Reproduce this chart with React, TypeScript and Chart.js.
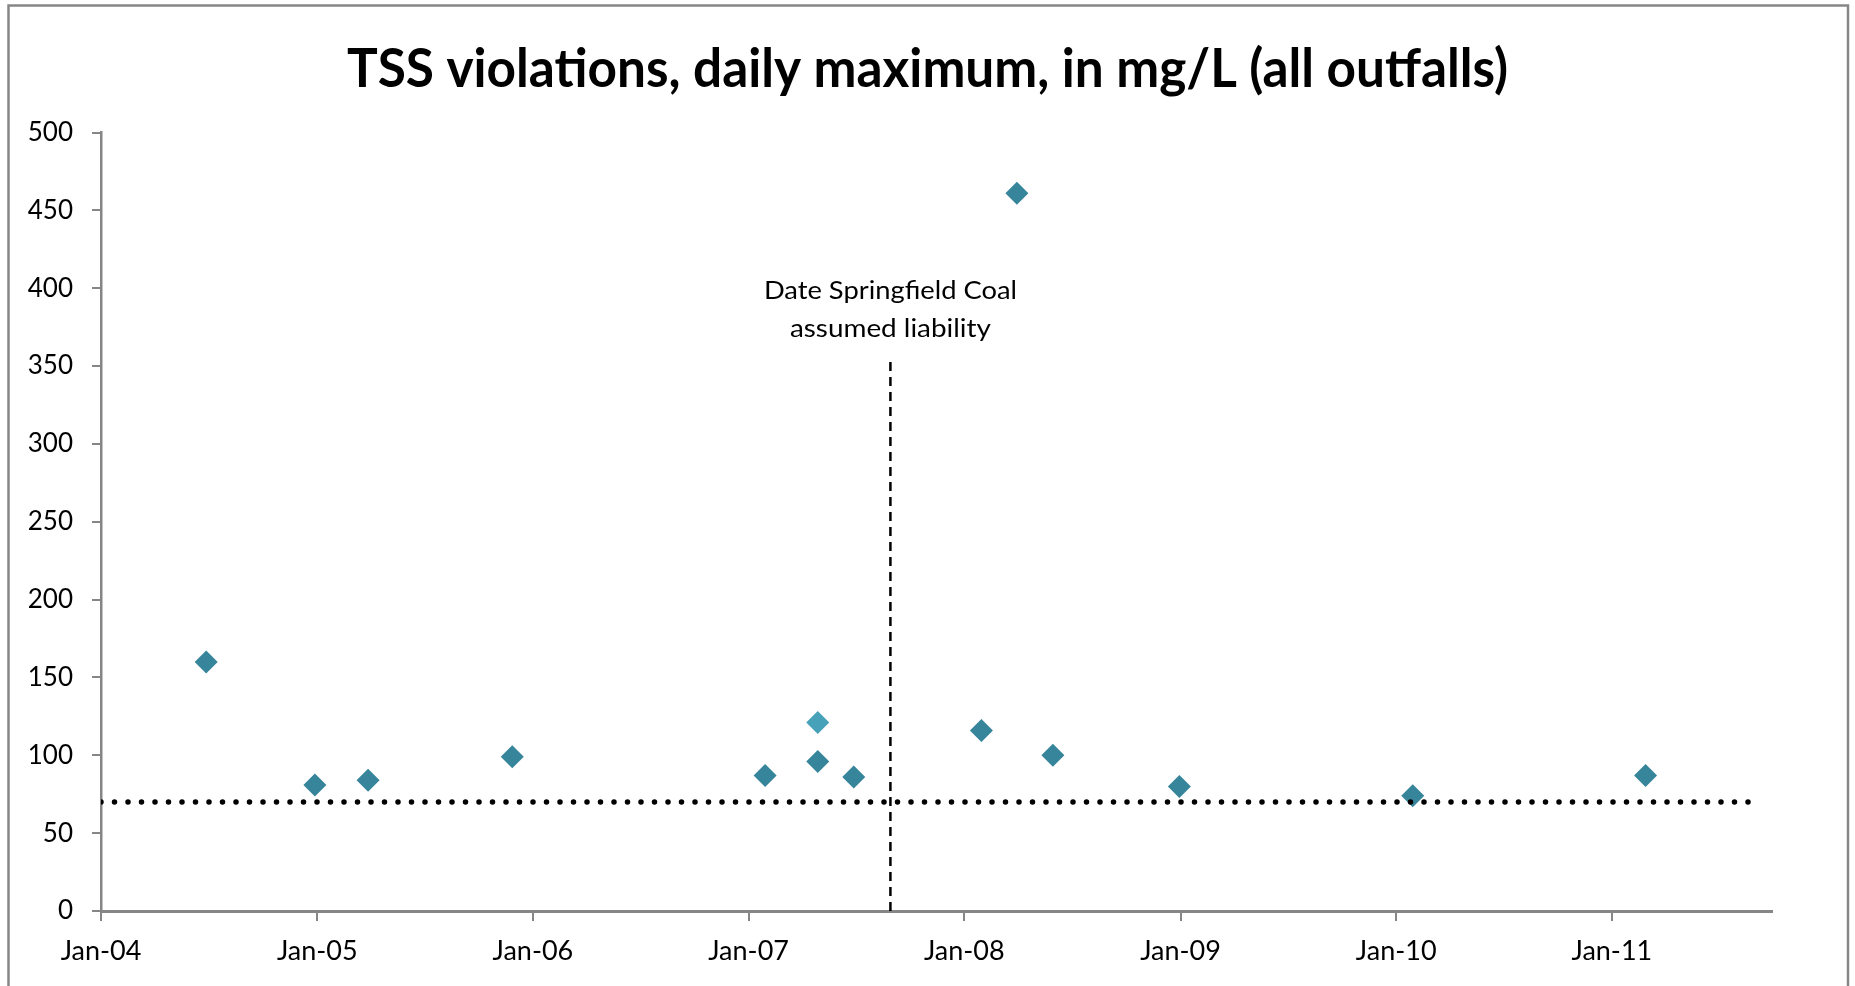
import React, { useEffect, useRef } from "react";
import { Chart, registerables } from "chart.js";

Chart.register(...registerables);

// ---- data ----
const violationDates = [
  "2004-06-27", "2004-12-28", "2005-03-28", "2005-11-27", "2007-01-29",
  "2007-04-28", "2007-06-28", "2008-01-30", "2008-03-30", "2008-05-30",
  "2008-12-30", "2010-01-29", "2011-02-27",
];
const violationValues = [160, 81, 84, 99, 87, 96, 86, 116, 461, 100, 80, 74, 87];

const highlightDates = ["2007-04-28"];
const highlightValues = [121];

const limitDates = ["2004-01-01", "2011-08-28"];
const limitValues = [70, 70];

const liabilityDates = ["2007-08-29", "2007-08-29"];
const liabilityValues = [0, 354];

const tickDates = [
  "2004-01-01", "2005-01-01", "2006-01-01", "2007-01-01",
  "2008-01-01", "2009-01-01", "2010-01-01", "2011-01-01",
];
const tickLabels = ["Jan-04", "Jan-05", "Jan-06", "Jan-07", "Jan-08", "Jan-09", "Jan-10", "Jan-11"];

const axisMinDate = "2004-01-01";
const axisMaxDate = "2011-09-29";
const yMin = 0;
const yMax = 500;
const yStep = 50;

const titleText = "TSS violations, daily maximum, in mg/L (all outfalls)";
const annotationLines = ["Date Springfield Coal", "assumed liability"];

const toMs = (s: string) => new Date(s + "T00:00:00Z").getTime();
const pts = (ds: string[], vs: number[]) => ds.map((d, i) => ({ x: toMs(d), y: vs[i] }));

const AXIS_GRAY = "#868686";
const MARK = "#37859B";
const MARK_LIGHT = "#47A1B9";

function fitText(ctx: any, text: string, x: number, y: number, target: number) {
  const w = ctx.measureText(text).width;
  const sx = target / w;
  ctx.save();
  ctx.translate(x, y);
  ctx.scale(sx, 1);
  ctx.fillText(text, 0, 0);
  ctx.restore();
}

const decorPlugin = {
  id: "decor",
  beforeDraw(chart: any) {
    const ctx = chart.ctx;
    ctx.save();
    ctx.fillStyle = "#ffffff";
    ctx.fillRect(0, 0, chart.width, chart.height);
    ctx.strokeStyle = "#878787";
    ctx.lineWidth = 2.5;
    ctx.strokeRect(8.5, 5.5, 1839.5, 1010);
    ctx.restore();
  },
  afterDraw(chart: any) {
    const ctx = chart.ctx;
    // title
    ctx.save();
    ctx.fillStyle = "#000";
    ctx.font = "bold 53px Lato";
    ctx.textAlign = "center";
    ctx.textBaseline = "alphabetic";
    fitText(ctx, titleText, 927.5, 87, 1161);
    ctx.restore();

    // annotation
    const xs = chart.scales.x;
    const ys = chart.scales.y;
    const cx = xs.getPixelForValue(toMs(liabilityDates[0]));
    const top = ys.getPixelForValue(liabilityValues[1]);
    ctx.save();
    ctx.fillStyle = "#000";
    ctx.font = "25px Lato";
    ctx.textAlign = "center";
    ctx.textBaseline = "alphabetic";
    fitText(ctx, annotationLines[0], cx, top - 61, 253);
    fitText(ctx, annotationLines[1], cx, top - 23, 201);
    ctx.restore();
  },
};

export default function App() {
  const ref = useRef<HTMLCanvasElement | null>(null);
  useEffect(() => {
    if (!ref.current) return;
    const chart = new Chart(ref.current, {
      type: "scatter",
      data: {
        datasets: [
          {
            type: "line",
            data: pts(limitDates, limitValues),
            borderColor: "#000",
            borderWidth: 5.5,
            borderDash: [0, 13.5],
            borderCapStyle: "round",
            pointRadius: 0,
            fill: false,
            tension: 0,
          } as any,
          {
            type: "line",
            data: pts(liabilityDates, liabilityValues),
            borderColor: "#000",
            borderWidth: 2.5,
            borderDash: [9, 6],
            pointRadius: 0,
            fill: false,
            tension: 0,
          } as any,
          {
            data: pts(violationDates, violationValues),
            backgroundColor: MARK,
            borderWidth: 0,
            pointStyle: "rectRot",
            pointRadius: 11.5,
            showLine: false,
          },
          {
            data: pts(highlightDates, highlightValues),
            backgroundColor: MARK_LIGHT,
            borderWidth: 0,
            pointStyle: "rectRot",
            pointRadius: 11.5,
            showLine: false,
          },
        ],
      },
      options: {
        responsive: false,
        animation: false,
        layout: { padding: { top: 132.5, right: 83, bottom: 0, left: 0 } },
        plugins: {
          legend: { display: false },
          tooltip: { enabled: false },
          title: { display: false },
        },
        scales: {
          x: {
            type: "linear",
            min: toMs(axisMinDate),
            max: toMs(axisMaxDate),
            afterBuildTicks(scale: any) {
              scale.ticks = tickDates.map((d) => ({ value: toMs(d) }));
            },
            afterFit(scale: any) {
              scale.height = 75;
            },
            ticks: {
              autoSkip: false,
              maxRotation: 0,
              padding: 14,
              color: "#000",
              font: { family: "Lato", size: 27 },
              callback: (v: any) => {
                const i = tickDates.findIndex((d) => toMs(d) === v);
                return i >= 0 ? tickLabels[i] : "";
              },
            },
            grid: {
              display: true,
              drawOnChartArea: false,
              drawTicks: true,
              tickLength: 10,
              color: AXIS_GRAY,
              lineWidth: 2,
            },
            border: { display: true, color: AXIS_GRAY, width: 3 },
          },
          y: {
            type: "linear",
            min: yMin,
            max: yMax,
            afterFit(scale: any) {
              scale.width = 101;
            },
            ticks: {
              stepSize: yStep,
              padding: 19,
              color: "#000",
              font: { family: "Lato", size: 26 },
            },
            grid: {
              display: true,
              drawOnChartArea: false,
              drawTicks: true,
              tickLength: 9,
              color: AXIS_GRAY,
              lineWidth: 2,
            },
            border: { display: true, color: AXIS_GRAY, width: 2.5 },
          },
        },
      },
      plugins: [decorPlugin],
    });
    return () => chart.destroy();
  }, []);
  return (
    <div style={{ position: "absolute", left: 0, top: 0, width: 1855, height: 986 }}>
      <canvas ref={ref} width={1855} height={986} style={{ display: "block" }} />
    </div>
  );
}
